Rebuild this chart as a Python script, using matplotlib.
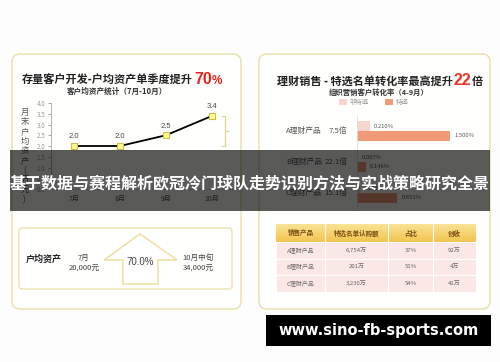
import matplotlib
matplotlib.use("Agg")
import matplotlib.pyplot as plt
import numpy as np
from matplotlib.patches import FancyBboxPatch, Rectangle, Polygon

plt.rcParams["font.family"] = ["Noto Sans CJK SC", "DejaVu Sans"]

W, H = 500, 362

# left panel: average assets per customer (10k yuan)
months = ["7月", "8月", "9月", "10月"]
avg_assets = [2.0, 2.0, 2.5, 3.4]
asset_ticks = [0.0, 0.5, 1.0, 1.5, 2.0, 2.5, 3.0, 3.5, 4.0]
ylabel_chars = ["月", "末", "户", "均", "资", "产", "(", "万", "元", ")"]

# right panel: conversion rate (%)
products = ["A理财产品", "B理财产品", "C理财产品"]
multiples = ["7.5倍", "22.1倍", "15.1倍"]
rate_normal = [0.210, 0.007, 0.043]
rate_selected = [1.500, 0.146, 0.651]

# table
table_header = ["销售产品", "特选名单认购额", "占比", "创收"]
table_amount = ["6,754万", "201万", "3,230万"]
table_share = ["37%", "51%", "54%"]
table_income = ["92万", "4万", "41万"]

BORDER = "#e9dea6"
PINK = "#f9d6cd"
SALMON = "#f29a78"


def fig_rect(x0, y0, x1, y1):
    """pixel box (top-left origin) -> figure fraction rect"""
    return [x0 / W, 1 - y1 / H, (x1 - x0) / W, (y1 - y0) / H]


def pixel_axes(fig, zorder):
    ax = fig.add_axes([0, 0, 1, 1], zorder=zorder)
    ax.set_xlim(0, W)
    ax.set_ylim(H, 0)
    ax.axis("off")
    ax.patch.set_alpha(0)
    return ax


fig = plt.figure(figsize=(W / 100, H / 100), dpi=100, facecolor="#fdfdfd")
bg = pixel_axes(fig, 0)

# panel frames
for x0, x1 in [(12, 241), (259, 490)]:
    bg.add_patch(FancyBboxPatch((x0, 54), x1 - x0, 255,
                                boxstyle="round,pad=0,rounding_size=8",
                                fc="#fffffd", ec=BORDER, lw=1))

# ---- left titles
t = bg.text(22, 84, "存量客户开发-户均资产单季度提升", fontsize=8,
            fontweight="bold", color="#222", va="baseline")
t2 = bg.annotate("70", xy=(1, 0), xycoords=t, xytext=(1, 0),
                 textcoords="offset points", fontsize=11.5, fontweight="bold",
                 color="#e8231e", va="bottom", family="Liberation Sans")
bg.annotate("%", xy=(1, 0), xycoords=t2, fontsize=8.5, fontweight="bold",
            color="#e8231e", va="bottom", family="Liberation Sans")
bg.text(117, 91, "客户均资产统计（7月-10月）", fontsize=5.5, fontweight="bold",
        color="#333", ha="center", va="center")

for i, ch in enumerate(ylabel_chars):
    bg.text(24.5, 112 + 9.7 * i, ch, fontsize=6, color="#555",
            ha="center", va="center")

# ---- line chart
ax1 = fig.add_axes(fig_rect(51, 103, 235, 189), zorder=1)
ax1.patch.set_alpha(0)
x = np.arange(len(months))
ax1.plot(x, avg_assets, color="black", lw=1.3, marker="s", ms=4,
         mfc="#ffff8a", mec="#c9bf55", mew=0.8, zorder=3)
for xi, v in zip(x, avg_assets):
    ax1.annotate(f"{v:.1f}", (xi, v), xytext=(0, 4), textcoords="offset points",
                 ha="center", va="bottom", fontsize=5.5, color="#444",
                 family="Liberation Sans")
ax1.set_xlim(-0.5, 3.5)
ax1.set_ylim(0, 4.0)
ax1.set_yticks(asset_ticks)
ax1.set_yticklabels([f"{v:.1f}" for v in asset_ticks])
ax1.set_xticks(x)
ax1.set_xticklabels(months)
ax1.tick_params(axis="y", length=2, width=0.6, color="#999", labelsize=4.5,
                labelcolor="#999", pad=2)
ax1.tick_params(axis="x", length=0, labelsize=5, labelcolor="#555", pad=4)
for side in ["top", "right"]:
    ax1.spines[side].set_visible(False)
ax1.spines["left"].set_color("#aaa")
ax1.spines["left"].set_linewidth(0.6)
ax1.spines["bottom"].set_color("#ccc")
ax1.spines["bottom"].set_linewidth(0.6)
# bracket marking the 2.0 -> 3.4 rise
ax1.plot([3.22, 3.28, 3.28, 3.22], [avg_assets[-1], avg_assets[-1],
         avg_assets[0], avg_assets[0]], color="#e2d48e", lw=0.9, clip_on=False)
mid = (avg_assets[-1] + avg_assets[0]) / 2
ax1.plot([3.28, 3.35], [mid, mid], color="#e2d48e", lw=0.9, clip_on=False)

# ---- left summary box
bg.add_patch(FancyBboxPatch((19, 228), 213, 61,
                            boxstyle="round,pad=0,rounding_size=3",
                            fc="#fffffe", ec=BORDER, lw=0.9))
bg.text(44, 259, "户均资产", fontsize=6.5, fontweight="bold", color="#222",
        ha="center", va="center")
bg.text(84, 258, "7月", fontsize=5.5, color="#444", ha="center", va="center")
bg.text(84, 269, "20,000元", fontsize=5.5, color="#444", ha="center", va="center")
bg.add_patch(Polygon([(140, 234), (104, 260), (123, 260), (123, 284),
                      (158, 284), (158, 260), (177, 260)], closed=True,
                     fc="white", ec="#ece0a2", lw=1.1))
bg.text(140.5, 262, "70.0%", fontsize=7, color="#444", ha="center",
        va="center", family="Liberation Sans")
bg.text(198, 258, "10月中旬", fontsize=5.5, color="#444", ha="center", va="center")
bg.text(198, 269, "34,000元", fontsize=5.5, color="#444", ha="center", va="center")

# ---- right titles
t = bg.text(277, 85, "理财销售 - 特选名单转化率最高提升", fontsize=8,
            fontweight="bold", color="#222", va="baseline")
t2 = bg.annotate("22", xy=(1, 0), xycoords=t, xytext=(0.5, 0),
                 textcoords="offset points", fontsize=11.5, fontweight="bold",
                 color="#ee3322", va="bottom", family="Liberation Sans")
bg.annotate("倍", xy=(1, 0), xycoords=t2, xytext=(0.5, 0),
            textcoords="offset points", fontsize=8, fontweight="bold",
            color="#222", va="bottom")
bg.text(379, 92.5, "组织营销客户转化率（4-9月）", fontsize=5.3, fontweight="bold",
        color="#333", ha="center", va="center")

# legend
bg.add_patch(Rectangle((339, 98.5), 8, 6, fc=PINK, ec="none"))
bg.text(350, 102, "非特选", fontsize=4.6, color="#999", va="center")
bg.add_patch(Rectangle((385, 98.5), 8, 6, fc=SALMON, ec="none"))
bg.text(396, 102, "特选", fontsize=4.6, color="#999", va="center")

# ---- bar chart
ax2 = fig.add_axes(fig_rect(357, 115.5, 490, 208.5), zorder=1)
ax2.patch.set_alpha(0)
y = np.arange(len(products))
bh = 0.32
ax2.barh(y - bh / 2, rate_normal, height=bh, color=PINK)
ax2.barh(y + bh / 2, rate_selected, height=bh, color=SALMON)
ax2.set_xlim(0, (490 - 357) / 62)
ax2.set_ylim(2.5, -0.5)
for yi, v in zip(y - bh / 2, rate_normal):
    ax2.text(v + 0.065, yi, f"{v:.3f}%", fontsize=4.2, color="#555", va="center")
for yi, v in zip(y + bh / 2, rate_selected):
    ax2.text(v + 0.065, yi, f"{v:.3f}%", fontsize=4.2, color="#555", va="center")
for yi, name, mult in zip(y, products, multiples):
    ax2.text(-0.565, yi, name, fontsize=5.6, color="#555", ha="right", va="center")
    ax2.text(-0.15, yi, mult, fontsize=5.6, color="#555", ha="right", va="center")
ax2.set_xticks([])
ax2.set_yticks([])
for side in ["top", "right", "bottom"]:
    ax2.spines[side].set_visible(False)
ax2.spines["left"].set_color("#ddd")
ax2.spines["left"].set_linewidth(0.6)

# ---- table
col_edges = [276, 325, 388, 433, 476]
row_edges = [224, 242, 258.5, 275, 292]
grad = np.linspace(0, 1, 50)[:, None]
top_c = np.array([0xfa, 0xe3, 0x96]) / 255
bot_c = np.array([0xf2, 0xc4, 0x4e]) / 255
img = top_c[None, None, :] * (1 - grad[..., None]) + bot_c[None, None, :] * grad[..., None]
bg.imshow(img, extent=(col_edges[0], col_edges[-1], row_edges[1], row_edges[0]),
          aspect="auto", zorder=1)
bg.set_xlim(0, W)
bg.set_ylim(H, 0)
rows = list(zip(products, table_amount, table_share, table_income))
for c, label in enumerate(table_header):
    cx = (col_edges[c] + col_edges[c + 1]) / 2
    bg.text(cx, (row_edges[0] + row_edges[1]) / 2, label, fontsize=4.7,
            fontweight="bold", color="#7b4f12", ha="center", va="center", zorder=3)
for r, row in enumerate(rows):
    y0, y1 = row_edges[r + 1], row_edges[r + 2]
    for c, val in enumerate(row):
        x0, x1 = col_edges[c], col_edges[c + 1]
        bg.add_patch(Rectangle((x0, y0), x1 - x0, y1 - y0, fc="#fbe7e5",
                               ec="white", lw=0.8, zorder=1))
        bg.text((x0 + x1) / 2, (y0 + y1) / 2, val, fontsize=4.3, color="#666",
                ha="center", va="center", zorder=3)
for xe in col_edges[1:-1]:
    bg.plot([xe, xe], [row_edges[0], row_edges[1]], color="white", lw=0.8, zorder=2)

# ---- overlay banner and watermark
top = pixel_axes(fig, 10)
top.add_patch(Rectangle((10, 150), 480, 61, fc="black", alpha=0.65, ec="none"))
top.text(250, 183, "基于数据与赛程解析欧冠冷门球队走势识别方法与实战策略研究全景",
         fontsize=11.5, fontweight="bold", color="white", ha="center", va="center")
top.add_patch(Rectangle((266, 315), 225, 31, fc="black", ec="none"))
top.text(378.5, 331, "www.sino-fb-sports.com", fontsize=10.5, fontweight="bold",
         color="white", ha="center", va="center", family="DejaVu Sans")

fig.savefig("out.png", dpi=100, facecolor=fig.get_facecolor())
